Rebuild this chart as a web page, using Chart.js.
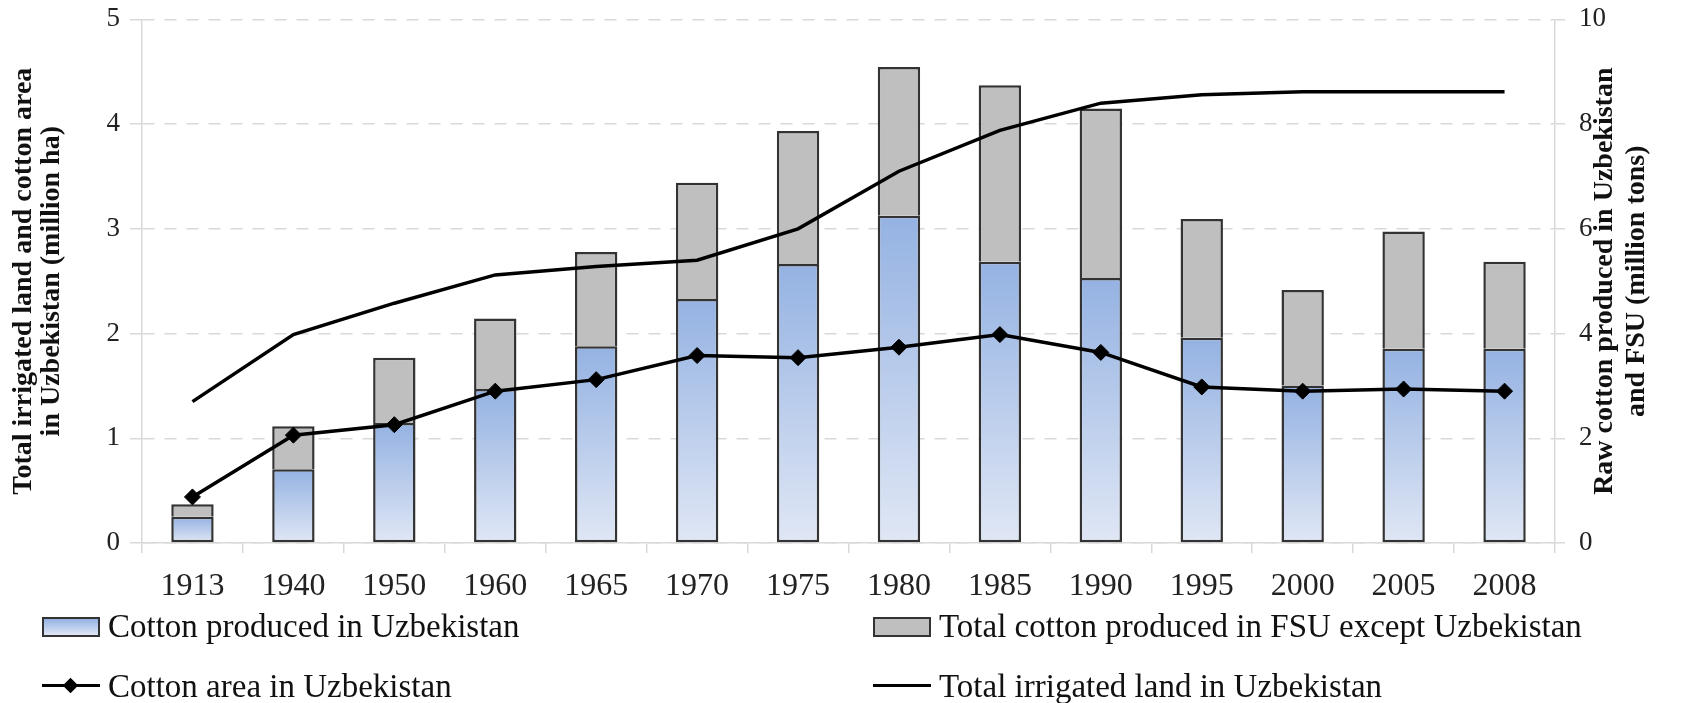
<!DOCTYPE html>
<html>
<head>
<meta charset="utf-8">
<script src="https://cdn.jsdelivr.net/npm/chart.js@4.4.1/dist/chart.umd.min.js"></script>
<style>
  body { margin: 0; background: #fff; }
  #wrap { position: relative; width: 1702px; height: 703px; }
  .lg { position: absolute; display: flex; align-items: center; height: 40px;
        font-family: "Liberation Serif", "Times New Roman", serif; font-size: 33px; color: #111; white-space: nowrap; }
  .sym { position: relative; width: 58px; height: 20px; margin-right: 8px; flex: none; }
  .box { position: absolute; left: 0; top: 1px; width: 54px; height: 16px; border: 2px solid #333; }
  .ln { position: absolute; left: 0; top: 8px; width: 58px; height: 3px; background: #000; }
  .dia { position: absolute; left: 23px; top: 4px; width: 11px; height: 11px; background: #000; transform: rotate(45deg); }
</style>
</head>
<body>
<div id="wrap">
  <canvas id="myChart"></canvas>
</div>
<script>
// data
const years = ["1913", "1940", "1950", "1960", "1965", "1970", "1975", "1980", "1985", "1990", "1995", "2000", "2005", "2008"];
// raw cotton, million tons (right axis)
const cottonUzb = [0.50, 1.41, 2.29, 2.94, 3.76, 4.66, 5.33, 6.25, 5.37, 5.06, 3.92, 3.01, 3.71, 3.71];
const cottonFsuOther = [0.24, 0.82, 1.25, 1.35, 1.80, 2.22, 2.54, 2.84, 3.37, 3.24, 2.27, 1.82, 2.24, 1.66];
// million ha (left axis)
const cottonArea = [0.44, 1.03, 1.13, 1.45, 1.56, 1.79, 1.77, 1.87, 1.99, 1.82, 1.49, 1.45, 1.47, 1.45];
const irrigatedLand = [1.35, 1.99, 2.29, 2.56, 2.64, 2.70, 3.00, 3.55, 3.94, 4.20, 4.28, 4.31, 4.31, 4.31];

const serif = "'Liberation Serif', 'Times New Roman', serif";
const gridGray = "#d9d9d9";
const blueTop = "#94b2e2";
const blueBottom = "#e0e7f5";
const gray = "#bfbfbf";
const edge = "#333";

// gradient per bar, from its top down to the base
function blueFill(c) {
  const chart = c.chart;
  if (!chart.chartArea || c.dataIndex === undefined) return blueTop;
  const s = chart.scales.y2;
  const top = s.getPixelForValue(c.raw);
  const bot = s.getPixelForValue(0);
  if (!isFinite(top) || bot - top < 1) return blueTop;
  const g = chart.ctx.createLinearGradient(0, top, 0, bot);
  g.addColorStop(0, blueTop);
  g.addColorStop(1, blueBottom);
  return g;
}

// right axis title reads bottom to top, like the left one
const rightTitle = {
  id: "rightTitle",
  afterDraw(chart) {
    const s = chart.scales.y2;
    const ctx = chart.ctx;
    const cy = (chart.chartArea.top + chart.chartArea.bottom) / 2;
    ctx.save();
    ctx.font = "bold 28px " + serif;
    ctx.fillStyle = "#111";
    ctx.textAlign = "center";
    ctx.textBaseline = "middle";
    ctx.translate(s.right - 97, cy);
    ctx.rotate(-Math.PI / 2);
    ctx.fillText("Raw cotton produced in Uzbekistan", 0, 0);
    ctx.fillText("and FSU (million tons)", 0, 32);
    ctx.restore();
  },
};

const chart = new Chart("myChart", {
  type: "bar",
  data: {
    labels: years,
    datasets: [
      {
        label: "Cotton produced in Uzbekistan",
        data: cottonUzb,
        yAxisID: "y2",
        backgroundColor: blueFill,
        borderColor: edge,
        borderWidth: 2.5,
        borderSkipped: false,
        order: 1,
      },
      {
        label: "Total cotton produced in FSU except Uzbekistan",
        data: cottonFsuOther,
        yAxisID: "y2",
        backgroundColor: gray,
        borderColor: edge,
        borderWidth: 2.5,
        order: 1,
      },
      {
        type: "line",
        label: "Cotton area in Uzbekistan",
        data: cottonArea,
        yAxisID: "y",
        borderColor: "#000",
        backgroundColor: "#000",
        borderWidth: 3.5,
        pointStyle: "rectRot",
        pointRadius: 8,
        pointBorderWidth: 1,
        tension: 0,
        order: 0,
      },
      {
        type: "line",
        label: "Total irrigated land in Uzbekistan",
        data: irrigatedLand,
        yAxisID: "y",
        borderColor: "#000",
        backgroundColor: "#000",
        borderWidth: 3.5,
        pointRadius: 0,
        tension: 0,
        order: 0,
      },
    ],
  },
  options: {
    responsive: true,
    maintainAspectRatio: false,
    animation: false,
    datasets: { bar: { categoryPercentage: 1, barPercentage: 0.42 } },
    layout: { padding: { top: 0, left: 0, right: 0, bottom: 0 } },
    plugins: {
      legend: { display: false }, // html legend below
      tooltip: { enabled: false },
    },
    scales: {
      x: {
        stacked: true,
        grid: {
          offset: true,
          drawOnChartArea: false, // only the small marks under the axis
          tickLength: 10,
          color: gridGray,
          lineWidth: 1.5,
        },
        border: { color: gridGray, width: 1.5 },
        ticks: { font: { family: serif, size: 32 }, color: "#222", padding: 14, maxRotation: 0, autoSkip: false },
        afterFit: (s) => { s.height = 160; },
      },
      y: {
        position: "left",
        min: 0,
        max: 5,
        // small lineHeight keeps the plot top close to the canvas edge
        ticks: { stepSize: 1, font: { family: serif, size: 27, lineHeight: 0.4 }, color: "#222", padding: 10 },
        grid: { color: gridGray, lineWidth: 1.5, tickLength: 12 },
        border: { color: gridGray, width: 1.5, dash: [12, 10] },
        title: {
          display: true,
          text: ["Total irrigated land and cotton area", "in Uzbekistan (million ha)"],
          font: { family: serif, size: 28, weight: "bold", lineHeight: 1.0 },
          color: "#111",
          padding: { top: 10, bottom: 0 },
        },
        afterFit: (s) => { s.width = 142; },
      },
      y2: {
        position: "right",
        stacked: true,
        min: 0,
        max: 10,
        ticks: { stepSize: 2, font: { family: serif, size: 27, lineHeight: 0.4 }, color: "#222", padding: 14 },
        grid: { drawOnChartArea: false, tickLength: 10, color: gridGray, lineWidth: 1.5 },
        border: { color: gridGray, width: 1.5 },
        afterFit: (s) => { s.width = 147; },
      },
    },
  },
  plugins: [rightTitle],
});

// legend in two columns, as in the figure
const wrap = document.getElementById("wrap");
const spots = [
  { left: 42, top: 606 },
  { left: 873, top: 606 },
  { left: 42, top: 666 },
  { left: 873, top: 666 },
];
chart.data.datasets.forEach((ds, i) => {
  const item = document.createElement("div");
  item.className = "lg";
  item.style.left = spots[i].left + "px";
  item.style.top = spots[i].top + "px";
  const sym = document.createElement("div");
  sym.className = "sym";
  if (ds.type === "line") {
    sym.innerHTML = '<div class="ln"></div>' + (ds.pointRadius ? '<div class="dia"></div>' : "");
  } else {
    const fill = i === 0 ? "linear-gradient(" + blueTop + ", " + blueBottom + ")" : gray;
    sym.innerHTML = '<div class="box" style="background:' + fill + '"></div>';
  }
  item.appendChild(sym);
  item.appendChild(document.createTextNode(ds.label));
  wrap.appendChild(item);
});
</script>
</body>
</html>
